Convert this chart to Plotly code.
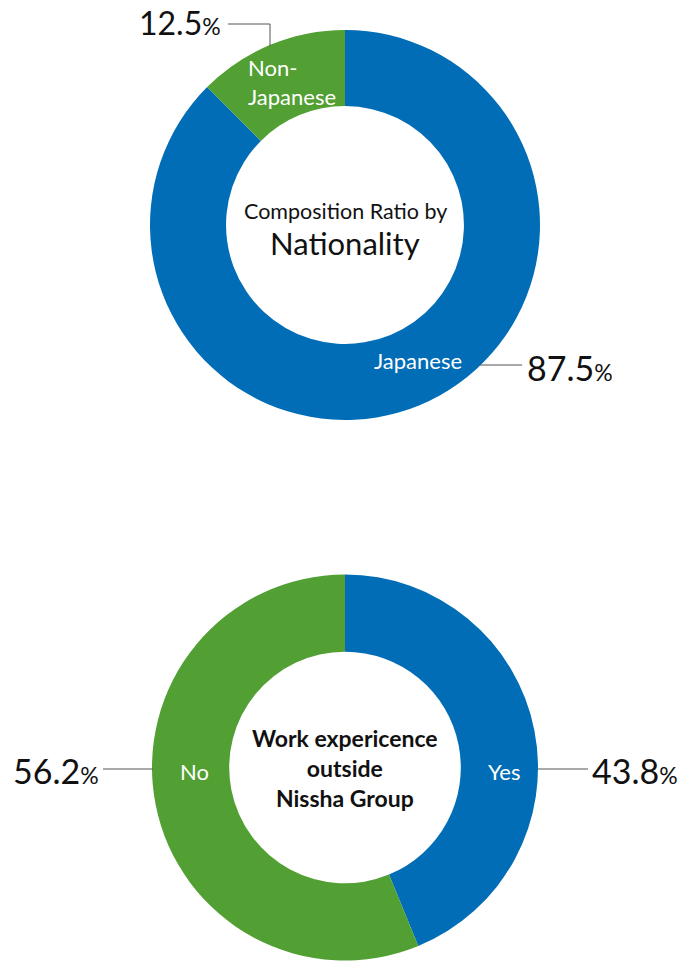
import plotly.graph_objects as go

W, H = 683, 961

nat_labels = ["Japanese", "Non-Japanese"]
nat_values = [87.5, 12.5]
exp_labels = ["Yes", "No"]
exp_values = [43.8, 56.2]
colors = ["#006db6", "#529f33"]

FONT = "Lato"

def px(x):
    return x / W

def py(y):
    return 1 - y / H

fig = go.Figure()
fig.add_trace(go.Pie(
    labels=nat_labels, values=nat_values, hole=0.61, sort=False,
    direction="clockwise", rotation=0, textinfo="none", hoverinfo="label+percent",
    marker=dict(colors=colors, line=dict(width=0)),
    domain=dict(x=[px(150), px(540)], y=[py(420), py(30)]),
))
fig.add_trace(go.Pie(
    labels=exp_labels, values=exp_values, hole=0.6, sort=False,
    direction="clockwise", rotation=0, textinfo="none", hoverinfo="label+percent",
    marker=dict(colors=colors, line=dict(width=0)),
    domain=dict(x=[px(152), px(538)], y=[py(961), py(574)]),
))

def pct(v):
    return f"{v}<span style='font-size:23px'>%</span>"

ann = []
def add(text, x, y, size, color="#111", xanchor="center", bold=False, align="center"):
    ann.append(dict(text=text, x=px(x), y=py(y), xref="paper", yref="paper",
                    showarrow=False, xanchor=xanchor, yanchor="middle", align=align,
                    font=dict(family=FONT, size=size, color=color,
                              weight=700 if bold else 400)))

# center texts
add("Composition Ratio by", 345, 211, 21.5)
add("Nationality", 345, 243, 31)
add("Work expericence<br>outside<br>Nissha Group", 345, 768, 23, bold=True)

# slice labels
add("Non-<br>Japanese", 246, 82, 22, color="white", xanchor="left", align="left")
add(nat_labels[0], 418, 361, 22, color="white")
add(exp_labels[0], 504, 771, 22, color="white")
add(exp_labels[1], 194, 771, 22, color="white")

# value labels
add(pct(nat_values[1]), 223, 22, 32, xanchor="right")
add(pct(nat_values[0]), 525, 368, 34, xanchor="left")
add(pct(exp_values[1]), 101, 770, 34, xanchor="right")
add(pct(exp_values[0]), 590, 770, 34, xanchor="left")

line = dict(color="#555", width=1)
shapes = [
    dict(type="path", path=f"M {px(228)} {py(24)} L {px(270)} {py(24)} L {px(270)} {py(46)}",
         xref="paper", yref="paper", line=line),
    dict(type="line", x0=px(480), x1=px(522), y0=py(365), y1=py(365), xref="paper", yref="paper", line=line),
    dict(type="line", x0=px(103), x1=px(153), y0=py(769), y1=py(769), xref="paper", yref="paper", line=line),
    dict(type="line", x0=px(538), x1=px(588), y0=py(769), y1=py(769), xref="paper", yref="paper", line=line),
]

fig.update_layout(
    width=W, height=H, margin=dict(l=0, r=0, t=0, b=0),
    paper_bgcolor="white", plot_bgcolor="white", showlegend=False,
    annotations=ann, shapes=shapes, font=dict(family=FONT),
)
fig.write_html("out.html")
